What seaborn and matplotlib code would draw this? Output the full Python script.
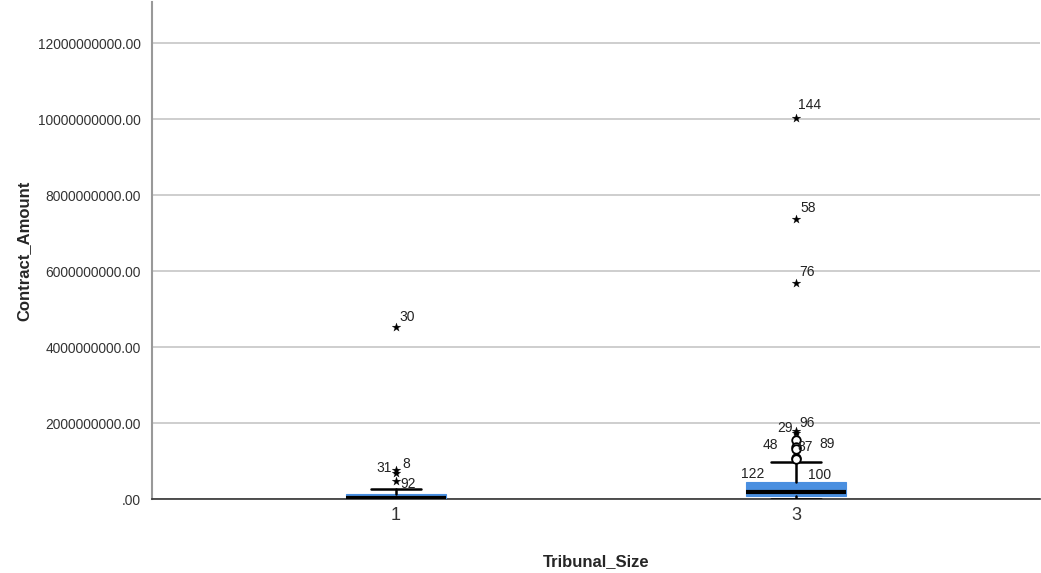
import pandas as pd
import matplotlib
matplotlib.use('Agg')
from matplotlib import pyplot as plt
from matplotlib.ticker import FuncFormatter
import seaborn as sns

# box summaries per Tribunal_Size
groups = ['1', '3']
whisker_lo = [0.0, 0.0]
q1 = [0.01e9, 0.08e9]
median = [0.04e9, 0.18e9]
q3 = [0.13e9, 0.45e9]
whisker_hi = [0.26e9, 0.98e9]

# outliers: group, value, case id, kind
out_group = ['1', '1', '1', '1', '3', '3', '3', '3', '3', '3', '3', '3', '3', '3']
out_value = [4.52e9, 0.77e9, 0.70e9, 0.48e9,
             10.04e9, 7.37e9, 5.68e9, 1.80e9, 1.74e9,
             1.56e9, 1.37e9, 1.32e9, 1.08e9, 1.05e9]
out_case = ['30', '8', '31', '92', '144', '58', '76', '96', '29',
            '48', '87', '89', '122', '100']
out_kind = ['extreme', 'extreme', 'extreme', 'extreme', 'extreme', 'extreme',
            'extreme', 'extreme', 'extreme', 'mild', 'mild', 'mild', 'mild', 'mild']

# label offsets in pixels (dx right, dy up) from the marker to the label baseline
label_off = {'30': (3, 6), '8': (6, 2), '31': (-20, 1), '92': (4, -7),
             '144': (2, 9), '58': (4, 7), '76': (3, 7), '96': (3, 4),
             '29': (-19, 1), '48': (-33, -9), '87': (1, -4), '89': (23, 1),
             '122': (-55, -20), '100': (12, -20)}

df = pd.DataFrame({'Tribunal_Size': out_group, 'Contract_Amount': out_value,
                   'case': out_case, 'kind': out_kind})
df['pos'] = df['Tribunal_Size'].map({g: i for i, g in enumerate(groups)})

sns.set_style('white')
plt.rcParams['font.family'] = ['Liberation Sans', 'DejaVu Sans']

fig = plt.figure(figsize=(10.41, 5.73), dpi=100)
ax = fig.add_axes([0.146, 0.129, 0.853, 0.868])

stats = []
for i, g in enumerate(groups):
    stats.append({'label': g, 'whislo': whisker_lo[i], 'q1': q1[i], 'med': median[i],
                  'q3': q3[i], 'whishi': whisker_hi[i], 'fliers': []})

ax.bxp(stats, positions=range(len(groups)), widths=0.25, patch_artist=True,
       showfliers=False,
       boxprops=dict(facecolor='#4a8fe0', edgecolor='#4a8fe0', linewidth=0.8),
       medianprops=dict(color='black', linewidth=3),
       whiskerprops=dict(color='black', linewidth=1.8),
       capprops=dict(color='black', linewidth=1.8),
       capwidths=0.125, zorder=3)

ext = df[df['kind'] == 'extreme']
mild = df[df['kind'] == 'mild']
sns.scatterplot(data=mild, x='pos', y='Contract_Amount', ax=ax, marker='o',
                s=38, color='white', edgecolor='black', linewidth=1.3, zorder=4, legend=False)
sns.scatterplot(data=ext, x='pos', y='Contract_Amount', ax=ax, marker='*',
                s=42, color='black', edgecolor='black', linewidth=0.2, zorder=5, legend=False)

for _, r in df.iterrows():
    dx, dy = label_off[r['case']]
    ax.annotate(r['case'], (r['pos'], r['Contract_Amount']), xytext=(dx * 0.72, dy * 0.72),
                textcoords='offset points', fontsize=10, color='#222222', zorder=6)

ax.set_xlim(-0.61, 1.61)
ax.set_ylim(0, 13.1e9)
ax.set_xticks(range(len(groups)))
ax.set_xticklabels(groups)
ax.set_yticks([i * 2e9 for i in range(7)])
ax.yaxis.set_major_formatter(FuncFormatter(lambda v, p: ('%.2f' % v).lstrip('0') if v == 0 else '%.2f' % v))
ax.yaxis.grid(True, color='#c6c6c6', linewidth=1.2)
ax.set_axisbelow(True)
ax.tick_params(axis='x', labelsize=13, colors='#333333', length=0, pad=6)
ax.tick_params(axis='y', labelsize=9.9, colors='#333333', length=0, pad=8)

for s in ['top', 'right']:
    ax.spines[s].set_visible(False)
ax.spines['left'].set_color('#999999')
ax.spines['left'].set_linewidth(1.5)
ax.spines['bottom'].set_color('#333333')
ax.spines['bottom'].set_linewidth(1.2)

ax.set_xlabel('Tribunal_Size', fontsize=12, fontweight='bold', labelpad=21)
ax.set_ylabel('Contract_Amount', fontsize=12, fontweight='bold', labelpad=5)

fig.savefig('out.png', dpi=100)
